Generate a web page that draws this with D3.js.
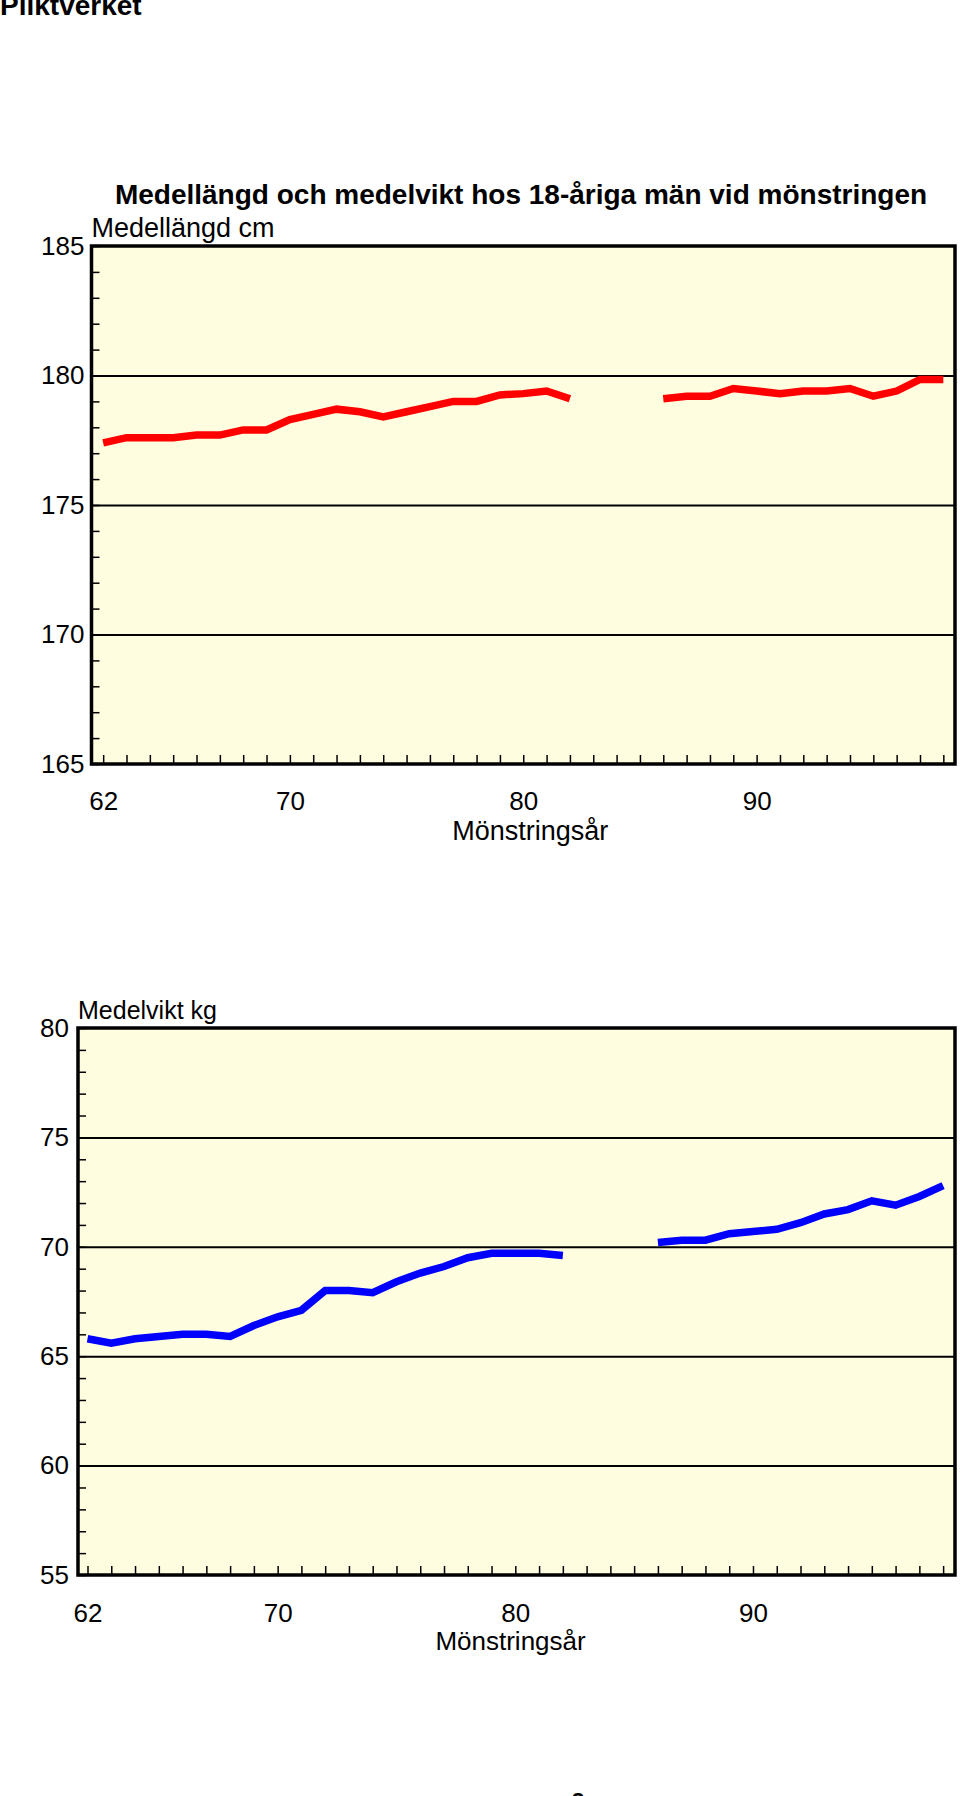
<!DOCTYPE html>
<html>
<head>
<meta charset="utf-8">
<script src="https://cdn.jsdelivr.net/npm/d3@7"></script>
<style>
  html, body { margin: 0; padding: 0; background: #fff; }
  svg { display: block; font-family: "Liberation Sans", Arial, sans-serif; }
</style>
</head>
<body>
<svg id="chart" width="960" height="1796"></svg>
<script>
// ---------- DATA ----------
const years = [62,63,64,65,66,67,68,69,70,71,72,73,74,75,76,77,78,79,80,81,82,83,84,85,86,87,88,89,90,91,92,93,94,95,96,97,98];
const heightCm = [177.4,177.6,177.6,177.6,177.7,177.7,177.9,177.9,178.3,178.5,178.7,178.6,178.4,178.6,178.8,179.0,179.0,179.25,179.3,179.4,179.1,null,null,null,179.1,179.2,179.2,179.5,179.4,179.3,179.4,179.4,179.5,179.2,179.4,179.85,179.85];
const weightKg = [65.8,65.6,65.8,65.9,66.0,66.0,65.9,66.4,66.8,67.1,68.0,68.0,67.9,68.4,68.8,69.1,69.5,69.7,69.7,69.7,69.6,null,null,null,70.2,70.3,70.3,70.6,70.7,70.8,71.1,71.5,71.7,72.1,71.9,72.3,72.8];
const xTickLabels = [62,70,80,90];
const heightTickLabels = [165,170,175,180,185];
const heightGrid = [170,175,180];
const weightTickLabels = [55,60,65,70,75,80];
const weightGrid = [60,65,70,75];

const pageTitle = "Pliktverket";
const chartTitle = "Medellängd och medelvikt hos 18-åriga män vid mönstringen";
const heightLabel = "Medellängd cm";
const weightLabel = "Medelvikt kg";
const xLabel = "Mönstringsår";

const svg = d3.select("#chart");

svg.append("text").attr("x", 0).attr("y", 15)
  .attr("font-size", 28).attr("font-weight", "bold").text(pageTitle);

svg.append("text").attr("x", 521).attr("y", 204).attr("text-anchor", "middle")
  .attr("font-size", 28).attr("font-weight", "bold").text(chartTitle);

function panel(cfg) {
  const x = d3.scaleLinear().domain(cfg.xDomain).range([cfg.left, cfg.right]);
  const y = d3.scaleLinear().domain(cfg.yDomain).range([cfg.bottom, cfg.top]);
  const g = svg.append("g");
  const w = cfg.right - cfg.left;

  g.append("rect").attr("x", cfg.left).attr("y", cfg.top)
    .attr("width", w).attr("height", cfg.bottom - cfg.top)
    .attr("fill", "#fffde0");

  // gridlines
  g.append("g").attr("transform", `translate(${cfg.left},0)`)
    .call(d3.axisRight(y).tickValues(cfg.grid).tickSize(w).tickFormat(""))
    .call(s => s.select(".domain").remove())
    .call(s => s.selectAll("line").attr("stroke", "#000").attr("stroke-width", 2));

  // minor y ticks inside
  g.append("g").attr("transform", `translate(${cfg.left},0)`)
    .call(d3.axisRight(y).tickValues(d3.range(cfg.yDomain[0], cfg.yDomain[1] + 1, 1)).tickSize(8).tickFormat(""))
    .call(s => s.select(".domain").remove())
    .call(s => s.selectAll("line").attr("stroke", "#000").attr("stroke-width", 1.5));

  // y labels
  g.append("g").attr("transform", `translate(${cfg.left},0)`)
    .call(d3.axisLeft(y).tickValues(cfg.yTicks).tickSize(0).tickPadding(cfg.yPad))
    .call(s => s.select(".domain").remove())
    .call(s => s.selectAll("text").attr("font-size", 26).attr("fill", "#000")
      .attr("font-family", "'Liberation Sans', Arial, sans-serif"));

  // x ticks inside
  g.append("g").attr("transform", `translate(0,${cfg.bottom})`)
    .call(d3.axisTop(x).tickValues(years).tickSize(9).tickFormat(""))
    .call(s => s.select(".domain").remove())
    .call(s => s.selectAll("line").attr("stroke", "#000").attr("stroke-width", 1.5));

  // x labels
  g.append("g").attr("transform", `translate(0,${cfg.bottom})`)
    .call(d3.axisBottom(x).tickValues(xTickLabels).tickSize(0).tickPadding(cfg.xPad))
    .call(s => s.select(".domain").remove())
    .call(s => s.selectAll("text").attr("font-size", 26).attr("fill", "#000")
      .attr("font-family", "'Liberation Sans', Arial, sans-serif"));

  // frame
  g.append("rect").attr("x", cfg.left).attr("y", cfg.top)
    .attr("width", w).attr("height", cfg.bottom - cfg.top)
    .attr("fill", "none").attr("stroke", "#000").attr("stroke-width", 3.5);

  // line
  const line = d3.line().defined(d => d[1] != null)
    .x(d => x(d[0])).y(d => y(d[1]));
  g.append("path").datum(years.map((yr, i) => [yr, cfg.values[i]]))
    .attr("d", line).attr("fill", "none").attr("stroke", cfg.color)
    .attr("stroke-width", 7.5).attr("stroke-linejoin", "miter").attr("stroke-linecap", "butt");

  // titles
  g.append("text").attr("x", cfg.left).attr("y", cfg.top - 9)
    .attr("font-size", cfg.labelSize).text(cfg.label);
  g.append("text").attr("x", x(cfg.xLabelAt)).attr("y", cfg.xLabelY).attr("text-anchor", "middle")
    .attr("font-size", cfg.xLabelSize).text(xLabel);
}

panel({
  values: heightCm, color: "#ff0000",
  xDomain: [61.5, 98.5], yDomain: [165, 185],
  left: 91.5, right: 955, top: 246, bottom: 764,
  grid: heightGrid, yTicks: heightTickLabels, yPad: 7, xPad: 28,
  label: heightLabel, labelSize: 27, xLabelAt: 80.3, xLabelY: 840, xLabelSize: 27
});

panel({
  values: weightKg, color: "#0000ff",
  xDomain: [61.6, 98.5], yDomain: [55, 80],
  left: 78, right: 955, top: 1028, bottom: 1575,
  grid: weightGrid, yTicks: weightTickLabels, yPad: 9, xPad: 29,
  label: weightLabel, labelSize: 25, xLabelAt: 79.8, xLabelY: 1650, xLabelSize: 26
});

// page number, cut off at the bottom edge
svg.append("text").attr("x", 578).attr("y", 1808).attr("text-anchor", "middle")
  .attr("font-size", 22).attr("font-weight", "bold").text("3");
</script>
</body>
</html>
